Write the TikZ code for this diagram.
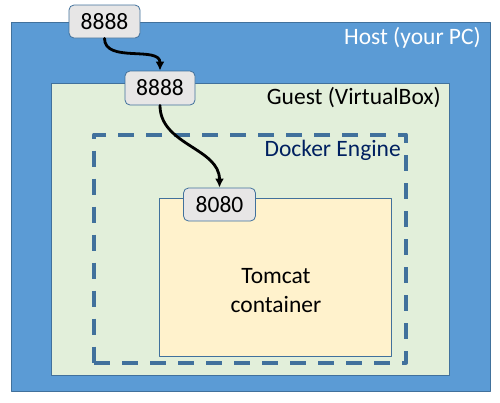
\documentclass[tikz,border=0pt]{standalone}
\usepackage{fontspec}
\setmainfont{Carlito}
\usepackage{tikz}
\usetikzlibrary{positioning}
\usetikzlibrary{arrows.meta}
\definecolor{hostblue}{HTML}{5B9BD5}
\definecolor{edgeblue}{HTML}{41719C}
\definecolor{guestgreen}{HTML}{E2EFDA}
\definecolor{tomcatyellow}{HTML}{FFF2CC}
\definecolor{portgrey}{HTML}{E7E6E6}
\definecolor{dockertext}{HTML}{002060}
\tikzset{
	box/.style={draw=edgeblue, line width=0.8pt, inner sep=0pt},
	portbox/.style={draw=edgeblue, line width=0.8pt, fill=portgrey, rounded corners=5pt, minimum width=71pt, minimum height=33pt, inner sep=0pt, font=\fontsize{23.5}{28}\selectfont},
	boxlabel/.style={anchor=east, inner sep=0pt, font=\fontsize{23.5}{28}\selectfont},
	portarrow/.style={-{Latex[length=9pt,width=9pt]}, line width=2.8pt},
}

\begin{document}
\begin{tikzpicture}[line cap=round,line join=round,x=1pt,y=-1pt]
	\useasboundingbox (0,0) rectangle (500,402);
	\node [box, fill=hostblue, minimum width=479pt, minimum height=369pt] (host) at (250.5,206.5) {};
	\node [box, fill=guestgreen, minimum width=398pt, minimum height=292pt] (guest) at (250,229) {};
	\node [inner sep=0pt, draw=edgeblue, line width=4pt, dash pattern=on 16pt off 12pt, line cap=butt, minimum width=312pt, minimum height=228pt] (docker) at (250,248.5) {};
	\node [box, fill=tomcatyellow, minimum width=232pt, minimum height=158pt] (tomcat) at (275,277) {};
	\node [align=center, inner sep=0pt, font=\fontsize{23.5}{29}\selectfont] (tomcatlabel) at (276,291) {Tomcat\\container};
	\node [boxlabel, text=white] (hostlabel) at (481,38) {Host (your PC)};
	\node [boxlabel] (guestlabel) at (441,98) {Guest (VirtualBox)};
	\node [boxlabel, text=dockertext] (dockerlabel) at (401,150) {Docker Engine};
	\node [portbox] (hostport) at (104.5,21.5) {8888};
	\node [portbox, minimum width=70pt, minimum height=34pt] (guestport) at (160,88) {8888};
	\node [portbox, minimum width=72pt] (tomcatport) at (219.5,204.5) {8080};
	\draw [portarrow] (hostport.south) to[out=-90,in=90] (guestport.north);
	\draw [portarrow] (guestport.south) to[out=-90,in=90] (tomcatport.north);
\end{tikzpicture}
\end{document}
